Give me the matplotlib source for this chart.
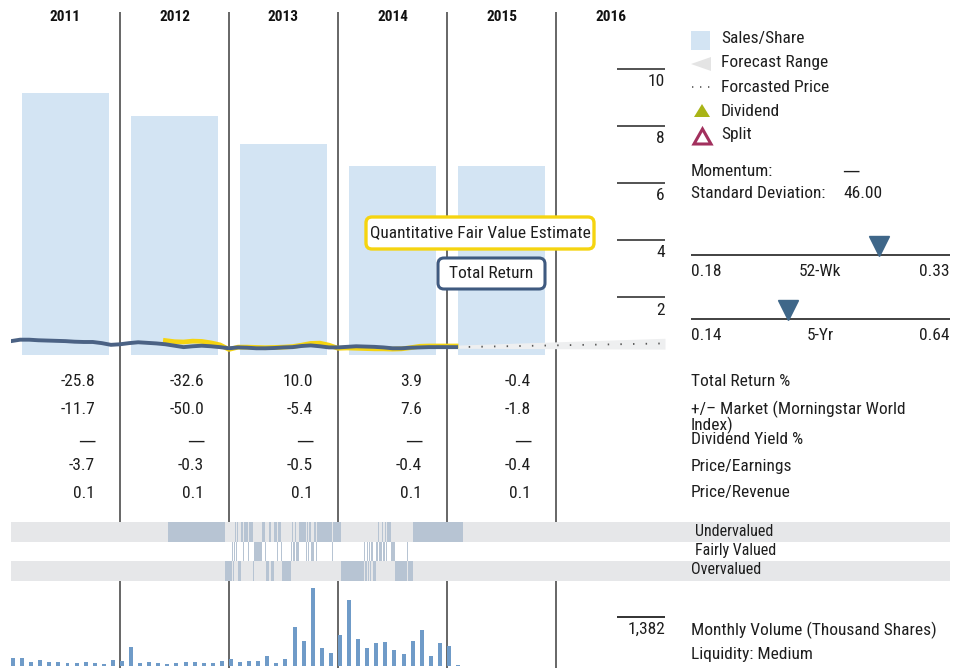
import matplotlib
matplotlib.use("Agg")
import matplotlib.pyplot as plt
from matplotlib import font_manager as fm
from matplotlib.patches import FancyBboxPatch, Polygon, Rectangle

W, H = 965, 668

# condensed sans, closest to the original's Univers Condensed
installed = {f.name for f in fm.fontManager.ttflist}
narrow = [n for n in ['Roboto Condensed', 'Liberation Sans Narrow', 'Archivo Narrow',
                      'PT Sans Narrow', 'Arial Narrow', 'Fira Sans Condensed',
                      'IBM Plex Sans Condensed', 'Encode Sans Condensed',
                      'Barlow Semi Condensed', 'Open Sans Condensed'] if n in installed]
plt.rcParams['font.family'] = narrow[:1] + ['DejaVu Sans']
plt.rcParams['font.size'] = 12.5

# ---- data ----
years = ['2011', '2012', '2013', '2014', '2015', '2016']
sales_share = [9.16, 8.35, 7.37, 6.60, 6.60]

# monthly close, Jan 2011 .. Feb 2015
price = [0.47, 0.52, 0.52, 0.50, 0.49, 0.48, 0.47, 0.45, 0.44, 0.44, 0.40, 0.34,
         0.36, 0.40, 0.43, 0.41, 0.39, 0.36, 0.31, 0.26, 0.29, 0.31, 0.29, 0.26,
         0.22, 0.25, 0.24, 0.22, 0.22, 0.23, 0.25, 0.26, 0.30, 0.32, 0.29, 0.25,
         0.25, 0.27, 0.29, 0.28, 0.27, 0.25, 0.22, 0.22, 0.24, 0.25, 0.26, 0.26,
         0.26, 0.26]
# quantitative fair value, starting Jun 2012 (month 17)
fv_start = 17
fair_value = [0.49, 0.45, 0.44, 0.47, 0.46, 0.41, 0.34, 0.18, 0.26, 0.26, 0.25,
              0.24, 0.25, 0.26, 0.28, 0.33, 0.39, 0.40, 0.33, 0.22, 0.23, 0.22,
              0.21, 0.20, 0.20, 0.19, 0.20, 0.24, 0.29, 0.30, 0.30, 0.30, 0.30]
forecast_months = [49, 72]
forecast_price = [0.26, 0.39]
forecast_low = [0.22, 0.19]
forecast_high = [0.33, 0.57]

# monthly volume, thousand shares
volume = [226, 226, 113, 169, 113, 113, 85, 85, 113, 85, 56, 169,
          141, 536, 85, 113, 85, 56, 85, 113, 113, 85, 85, 141,
          197, 113, 141, 141, 282, 85, 197, 1100, 705, 2200, 508, 367,
          874, 1861, 761, 508, 649, 677, 451, 338, 705, 1015, 282, 649,
          564, 28]
vol_ref = 1382

# valuation state timeline (months since Jan 2011)
val_edges = [17.28, 23.56, 24.37, 24.44, 24.51, 24.62, 24.77, 24.84, 24.95, 25.32,
             25.58, 25.69, 26.13, 26.24, 26.68, 26.75, 27.27, 27.34, 27.63, 28.00,
             28.07, 28.44, 28.66, 28.99, 29.25, 29.43, 29.69, 29.83, 30.79, 30.90,
             31.08, 31.23, 31.41, 31.67, 32.44, 32.55, 32.70, 32.81, 32.99, 33.21,
             33.28, 33.36, 33.58, 33.72, 35.30, 35.41, 36.33, 38.86, 39.00, 39.16,
             39.27, 39.41, 39.52, 39.67, 39.82, 40.15, 40.44, 40.55, 40.88, 40.99,
             41.14, 41.25, 41.36, 41.80, 42.28, 43.56, 43.67, 44.29, 49.73]
val_states = ("UOFOFUFUOU" "FUFUOFOFUF" "OUOUFUFOFU" "FUFUFUFUFO"
              "FUFUFUOFOF" "OFOFOFUFUF" "UFUFOFOU")
val_rows = {'U': 0, 'F': 1, 'O': 2}
val_labels = ['Undervalued', 'Fairly Valued', 'Overvalued']

row_labels = ['Total Return %', '+/\u2013 Market (Morningstar World', 'Dividend Yield %',
              'Price/Earnings', 'Price/Revenue']
total_return = ['-25.8', '-32.6', '10.0', '3.9', '-0.4']
vs_market = ['-11.7', '-50.0', '-5.4', '7.6', '-1.8']
div_yield = ['\u2014'] * 5
pe = ['-3.7', '-0.3', '-0.5', '-0.4', '-0.4']
ps = ['0.1', '0.1', '0.1', '0.1', '0.1']
table = [total_return, vs_market, div_yield, pe, ps]

range_52wk = (0.18, 0.33, 0.289)
range_5yr = (0.14, 0.64, 0.327)

# ---- colours ----
C_SALES = '#d3e4f3'
C_PRICE = '#4b6284'
C_FV = '#f5d410'
C_VOL = '#6f9bc8'
C_BAND = '#e6e7e9'
C_HI = '#b7c4d3'
C_GRID = '#5a5a5a'
C_TXT = '#1e1e1e'
C_MARK = '#3f6789'

fig = plt.figure(figsize=(W / 100, H / 100), dpi=100)


def px_axes(x0, y0, x1, y1, z):
    ax = fig.add_axes([x0 / W, 1 - y1 / H, (x1 - x0) / W, (y1 - y0) / H], zorder=z)
    ax.set_axis_off()
    return ax


MONTHS = 72
PX_PER_M = (665 - 11) / MONTHS

# year divider lines
ax_grid = px_axes(11, 12, 665, 668, 1)
ax_grid.set_xlim(0, MONTHS)
ax_grid.set_ylim(0, 1)
ax_grid.vlines([12, 24, 36, 48, 60], 0, 1, color=C_GRID, lw=1.3)

# price panel
ax_p = px_axes(11, 12, 665, 362, 2)
ax_p.set_xlim(0, MONTHS)
ax_p.set_ylim(-0.26, 11.98)
ax_p.bar([6 + 12 * i for i in range(len(sales_share))], sales_share, width=9.6,
         color=C_SALES, zorder=1)
ax_p.fill_between(forecast_months, forecast_low, forecast_high, color='#eeeff0',
                  lw=0, zorder=2)
ax_p.plot(forecast_months, forecast_price, color='#555555', lw=1.3,
          ls=(0, (0.8, 6.2)), zorder=3)
ax_p.plot(range(fv_start, fv_start + len(fair_value)), fair_value, color=C_FV,
          lw=3.4, solid_joinstyle='round', zorder=3)
ax_p.plot(range(len(price)), price, color=C_PRICE, lw=2.8,
          solid_joinstyle='round', zorder=4)
tick_x0 = (617 - 11) / PX_PER_M
for v in [2, 4, 6, 8, 10]:
    ax_p.hlines(v, tick_x0, MONTHS, color='#444444', lw=1.3)
    ax_p.annotate(str(v), (MONTHS, v), xytext=(0, -9.2), textcoords='offset points',
                  ha='right', va='center', color=C_TXT, fontsize=12.5)

# valuation bands
ax_v = px_axes(11, 522, 950, 581, 3)
ax_v.set_xlim(0, (950 - 11) / PX_PER_M)
ax_v.set_ylim(3, 0)
ax_v.axhspan(0, 1, color=C_BAND, lw=0)
ax_v.axhspan(1, 2, color='white', lw=0)
ax_v.axhspan(2, 3, color=C_BAND, lw=0)
for s, key in enumerate(val_states):
    a, b = val_edges[s], val_edges[s + 1]
    ax_v.barh(val_rows[key] + 0.5, b - a, left=a, height=1, color=C_HI, lw=0)

# volume
ax_vol = px_axes(11, 582, 665, 666, 4)
ax_vol.set_xlim(0, MONTHS)
ax_vol.set_ylim(0, vol_ref * 84 / 49)
ax_vol.bar(range(len(volume)), volume, width=0.44, align='edge', color=C_VOL)
ax_vol.hlines(vol_ref, tick_x0, MONTHS, color='#222222', lw=1.3)
ax_vol.annotate(f'{vol_ref:,}', (MONTHS, vol_ref), xytext=(0, -9), textcoords='offset points',
                ha='right', va='center', color=C_TXT, fontsize=12.5)

# overlay: text, legend, boxes
ax = px_axes(0, 0, W, H, 10)
ax.set_xlim(0, W)
ax.set_ylim(H, 0)


def m2px(m):
    return 11 + m * PX_PER_M


for i, y in enumerate(years):
    ax.text(m2px(6 + 12 * i), 17, y, ha='center', va='center', fontsize=11,
            fontweight='bold', color='#111111')

row_y = [381, 409, 441, 466, 493]
for r, vals in enumerate(table):
    for i, v in enumerate(vals):
        # the thin, wide em dash of DejaVu is closer to the original
        fam = ['DejaVu Sans'] if v == '\u2014' else None
        ax.text(m2px(9.25 + 12 * i), row_y[r], v, ha='right', va='center',
                color=C_TXT, family=fam)
label_y = [381, 409, 440, 466, 493]
for r, lab in enumerate(row_labels):
    ax.text(691, label_y[r], lab, ha='left', va='center', color=C_TXT)
ax.text(691, 425, 'Index)', ha='left', va='center', color=C_TXT)

for lab, x, y in zip(val_labels, [695, 695, 691], [531, 551, 570]):
    ax.text(x, y, lab, ha='left', va='center', fontsize=11.5, color=C_TXT)

ax.text(691, 630, 'Monthly Volume (Thousand Shares)', ha='left', va='center', color=C_TXT)
ax.text(691, 654, 'Liquidity: Medium', ha='left', va='center', color=C_TXT)

# legend
ax.add_patch(Rectangle((691, 31), 19, 19, color=C_SALES, lw=0))
ax.add_patch(Polygon([(691, 64), (711, 57), (711, 71)], closed=True, color='#e4e4e4', lw=0))
ax.plot([692, 714], [87, 87], color='#555555', lw=1.2, ls=(0, (0.8, 4)))
ax.add_patch(Polygon([(694, 117), (710, 117), (702, 104)], closed=True, color='#a9b416', lw=0))
ax.add_patch(Polygon([(694, 144), (711, 144), (702.5, 129)], closed=True, fill=False,
                     ec='#a2305d', lw=2.2))
for lab, y in zip(['Sales/Share', 'Forecast Range', 'Forcasted Price', 'Dividend', 'Split'],
                  [39, 63, 87, 111, 135]):
    ax.text(721, y, lab, ha='left', va='center', color=C_TXT)
ax.text(691, 171, 'Momentum:', ha='left', va='center', color=C_TXT)
ax.text(842, 171, '\u2014', ha='left', va='center', color=C_TXT, family=['DejaVu Sans'])
ax.text(691, 194, 'Standard Deviation:', ha='left', va='center', color=C_TXT)
ax.text(843, 194, '46.00', ha='left', va='center', color=C_TXT)

# 52-week and 5-year ranges
for (lo, hi, cur), name, yl in [(range_52wk, '52-Wk', 255), (range_5yr, '5-Yr', 319)]:
    ar = px_axes(691, yl - 40, 950, yl + 1, 11)
    ar.set_xlim(lo, hi)
    ar.set_ylim(0, 41)
    ar.hlines(1, lo, hi, color='#333333', lw=1.3, clip_on=False)
    ar.plot([cur], [10.5], marker='v', ms=14, color=C_MARK, clip_on=False)
    ax.text(691, yl + 16, f'{lo:.2f}', ha='left', va='center', color=C_TXT)
    ax.text(820, yl + 16, name, ha='center', va='center', color=C_TXT)
    ax.text(950, yl + 16, f'{hi:.2f}', ha='right', va='center', color=C_TXT)

# callout boxes
ax.add_patch(FancyBboxPatch((366, 217), 228, 32, boxstyle='round,pad=0,rounding_size=6',
                            fc='white', ec=C_FV, lw=2.4))
ax.text(480, 233, 'Quantitative Fair Value Estimate', ha='center', va='center', color=C_TXT)
ax.add_patch(FancyBboxPatch((438, 258), 107, 31, boxstyle='round,pad=0,rounding_size=6',
                            fc='white', ec='#3f5a80', lw=2.2))
ax.text(491, 273, 'Total Return', ha='center', va='center', color=C_TXT)

fig.savefig('out.png', dpi=100)
